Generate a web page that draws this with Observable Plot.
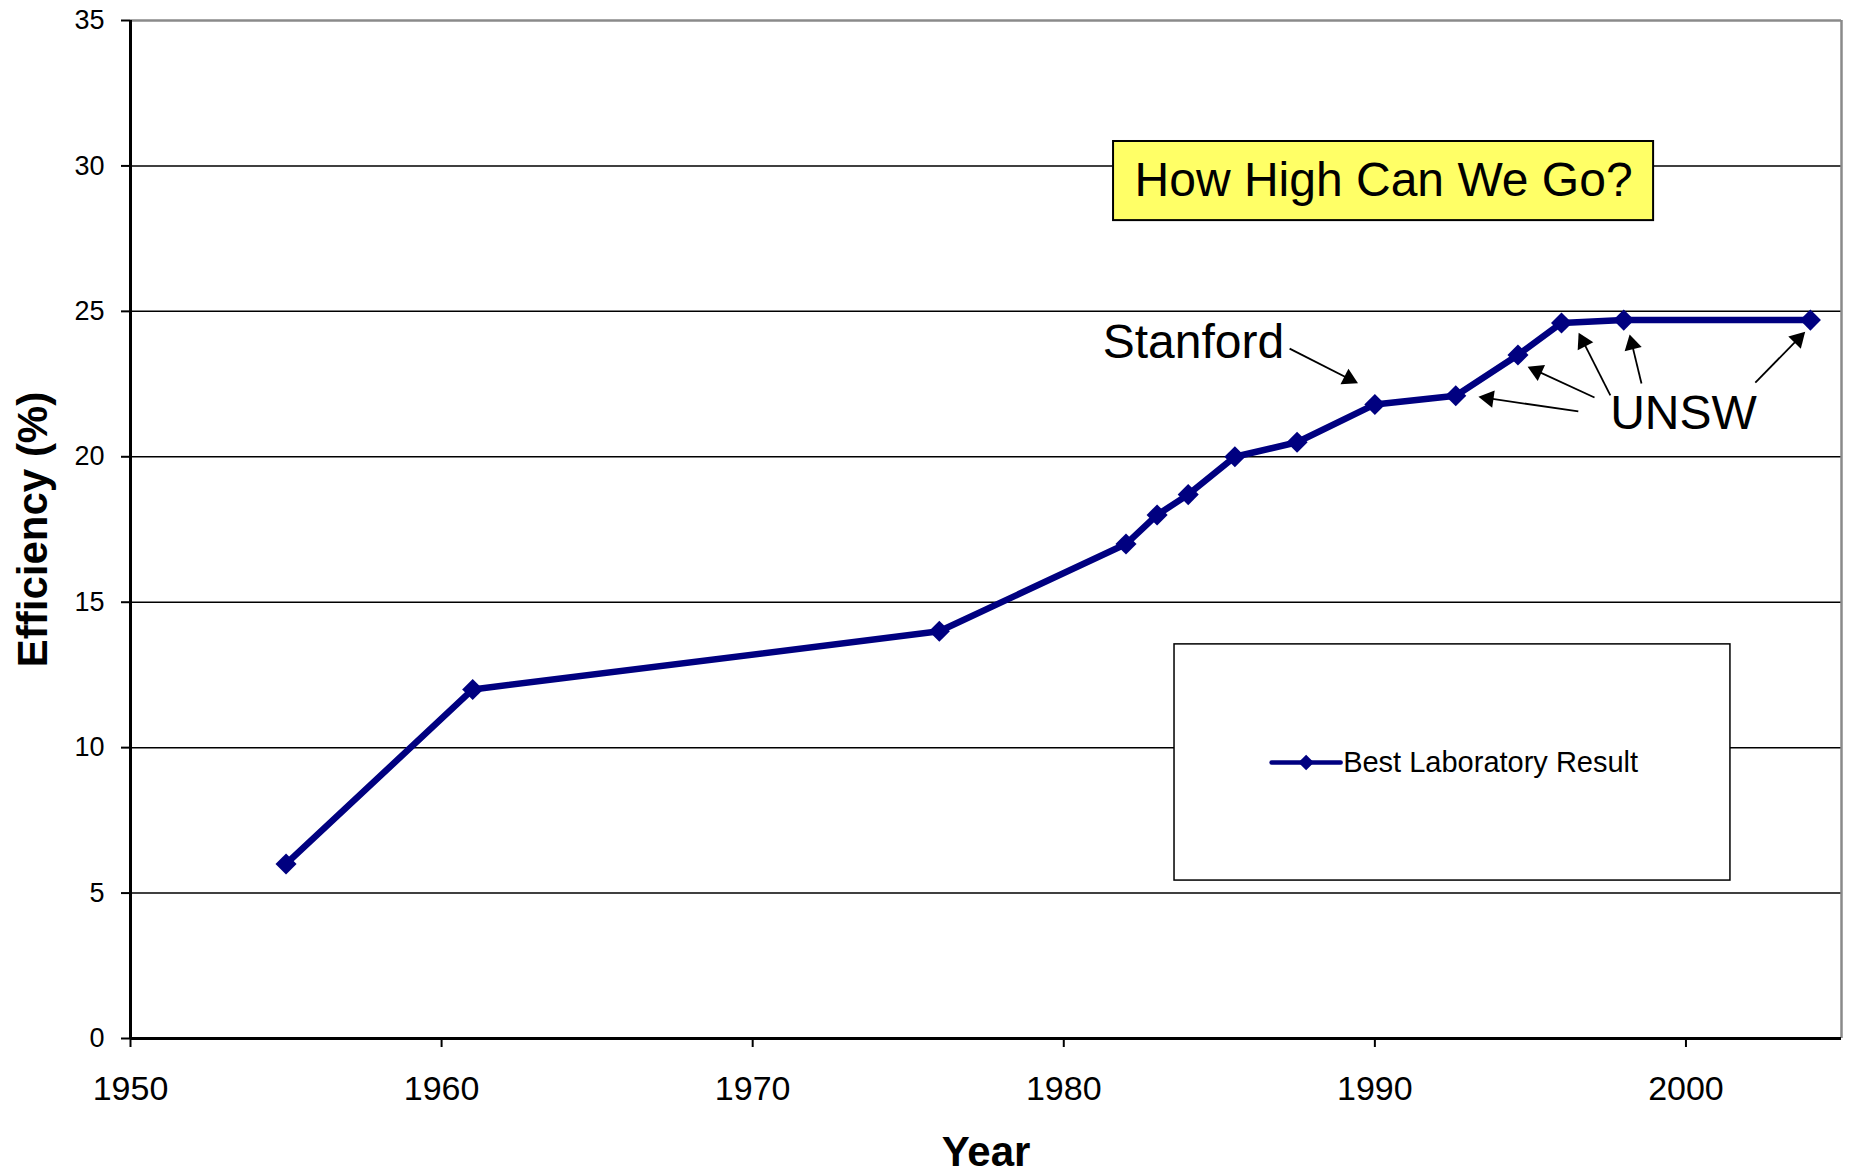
<!DOCTYPE html>
<html>
<head>
<meta charset="utf-8">
<script src="https://cdn.jsdelivr.net/npm/d3@7"></script>
<script src="https://cdn.jsdelivr.net/npm/@observablehq/plot@0.6"></script>
<style>
  html, body { margin: 0; padding: 0; background: #fff; }
  #chart svg { display: block; }
</style>
</head>
<body>
<div id="chart"></div>
<script>
// Best laboratory silicon cell efficiency by year
const years = [1955, 1961, 1976, 1982, 1983, 1984, 1985.5, 1987.5, 1990, 1992.6, 1994.6, 1996, 1998, 2004];
const efficiency = [6.0, 12.0, 14.0, 17.0, 18.0, 18.7, 20.0, 20.5, 21.8, 22.1, 23.5, 24.6, 24.7, 24.7];

const seriesName = "Best Laboratory Result";
const xTicks = [1950, 1960, 1970, 1980, 1990, 2000];
const yTicks = [0, 5, 10, 15, 20, 25, 30, 35];

// Callout labels and their pointer arrows, in data coordinates
const stanfordLabel = {t: "Stanford", x: 1981.25, y: 23.93};
const unswLabel = {t: "UNSW", x: 1999.92, y: 21.49};
const arrowX1 = [1987.26, 1996.54, 1997.06, 1997.57, 1998.57, 2002.23];
const arrowY1 = [23.72, 21.56, 22.04, 22.11, 22.52, 22.55];
const arrowX2 = [1989.34, 1993.46, 1995.03, 1996.61, 1998.22, 2003.74];
const arrowY2 = [22.59, 22.04, 23.04, 24.14, 24.07, 24.20];

const headline = "How High Can We Go?";

// ---- layout ----
const W = 1849, H = 1173;
const mL = 130, mR = 8, mT = 20, mB = 135;
const xDomain = [1950, 2005], yDomain = [0, 35];
const kx = (W - mL - mR) / (xDomain[1] - xDomain[0]);
const ky = (H - mT - mB) / (yDomain[1] - yDomain[0]);

const navy = "#000080";
const font = "'Liberation Sans', Arial, sans-serif";

const points = years.map((x, i) => ({x, y: efficiency[i]}));

const arrows = arrowX1.map((x1, i) => {
  const x2 = arrowX2[i], y1 = arrowY1[i], y2 = arrowY2[i];
  const sx = (x2 - x1) * kx, sy = -(y2 - y1) * ky;
  const len = Math.hypot(sx, sy);
  const ux = sx / len, uy = sy / len;
  const back = 6; // pull the head centroid back so its tip lands on the end point
  return {
    x1, y1, x2, y2,
    hx: x2 - ux * back / kx,
    hy: y2 + uy * back / ky,
    angle: Math.atan2(sx, -sy) * 180 / Math.PI
  };
});

// boxes placed in data space
const titleBox = {x1: 1981.6, x2: 1998.96, y1: 28.12, y2: 30.84};
const legendBox = {x1: 1983.56, x2: 2001.43, y1: 5.43, y2: 13.55};
const legendY = (legendBox.y1 + legendBox.y2) / 2;
const legendSwatch = [{x: 1986.68, y: legendY}, {x: 1988.9, y: legendY}];

const chart = Plot.plot({
  width: W,
  height: H,
  marginLeft: mL,
  marginRight: mR,
  marginTop: mT,
  marginBottom: mB,
  style: {fontFamily: font, background: "#fff", color: "#000", overflow: "visible"},
  x: {domain: xDomain},
  y: {domain: yDomain},
  marks: [
    // horizontal gridlines
    Plot.ruleY(yTicks.filter(v => v > 0 && v < 35), {stroke: "#000", strokeWidth: 1.5}),
    // top and right border of the plot area
    Plot.ruleY([35], {stroke: "#8a8a8a", strokeWidth: 2.5}),
    Plot.ruleX([2005], {stroke: "#8a8a8a", strokeWidth: 2.5}),

    // headline box
    Plot.rect([titleBox], {x1: "x1", x2: "x2", y1: "y1", y2: "y2", fill: "#ffff66", stroke: "#000", strokeWidth: 2}),
    Plot.text([headline], {
      x: (titleBox.x1 + titleBox.x2) / 2, y: (titleBox.y1 + titleBox.y2) / 2,
      text: d => d, fontSize: 48, fill: "#000"
    }),

    // legend
    Plot.rect([legendBox], {x1: "x1", x2: "x2", y1: "y1", y2: "y2", fill: "#fff", stroke: "#000", strokeWidth: 1.5}),
    Plot.line(legendSwatch, {x: "x", y: "y", stroke: navy, strokeWidth: 4.5}),
    Plot.dot([{x: (legendSwatch[0].x + legendSwatch[1].x) / 2, y: legendY}], {x: "x", y: "y", symbol: "diamond2", r: 7, fill: navy}),
    Plot.text([seriesName], {
      x: 1988.98, y: legendY, text: d => d, textAnchor: "start",
      fontSize: 29, fill: "#000"
    }),

    // efficiency series
    Plot.line(points, {x: "x", y: "y", stroke: navy, strokeWidth: 6.5, strokeLinejoin: "round"}),
    Plot.dot(points, {x: "x", y: "y", symbol: "diamond2", r: 9.5, fill: navy}),

    // callout arrows
    Plot.link(arrows, {x1: "x1", y1: "y1", x2: "x2", y2: "y2", stroke: "#000", strokeWidth: 1.8}),
    Plot.dot(arrows, {x: "hx", y: "hy", symbol: "triangle", r: 6.5, fill: "#000", rotate: "angle"}),
    Plot.text([stanfordLabel], {x: "x", y: "y", text: "t", textAnchor: "start", fontSize: 48, fill: "#000"}),
    Plot.text([unswLabel], {x: "x", y: "y", text: "t", textAnchor: "middle", fontSize: 48, fill: "#000"}),

    // axis lines
    Plot.ruleX([1950], {stroke: "#000", strokeWidth: 3}),
    Plot.ruleY([0], {stroke: "#000", strokeWidth: 3}),

    Plot.axisY({ticks: yTicks, tickSize: 9, tickPadding: 17, fontSize: 27, label: null, strokeWidth: 2}),
    Plot.axisX({ticks: xTicks, tickFormat: d => `${d}`, tickSize: 9, tickPadding: 28, fontSize: 34, label: null, strokeWidth: 2}),

    // axis titles
    Plot.text(["Efficiency (%)"], {x: xDomain[0], y: (yDomain[0] + yDomain[1]) / 2, dx: -97, rotate: -90, text: d => d, fontSize: 42, fontWeight: "bold", fill: "#000"}),
    Plot.text(["Year"], {frameAnchor: "bottom", dy: 127, text: d => d, fontSize: 42, fontWeight: "bold", fill: "#000"})
  ]
});

document.getElementById("chart").appendChild(chart);
</script>
</body>
</html>
